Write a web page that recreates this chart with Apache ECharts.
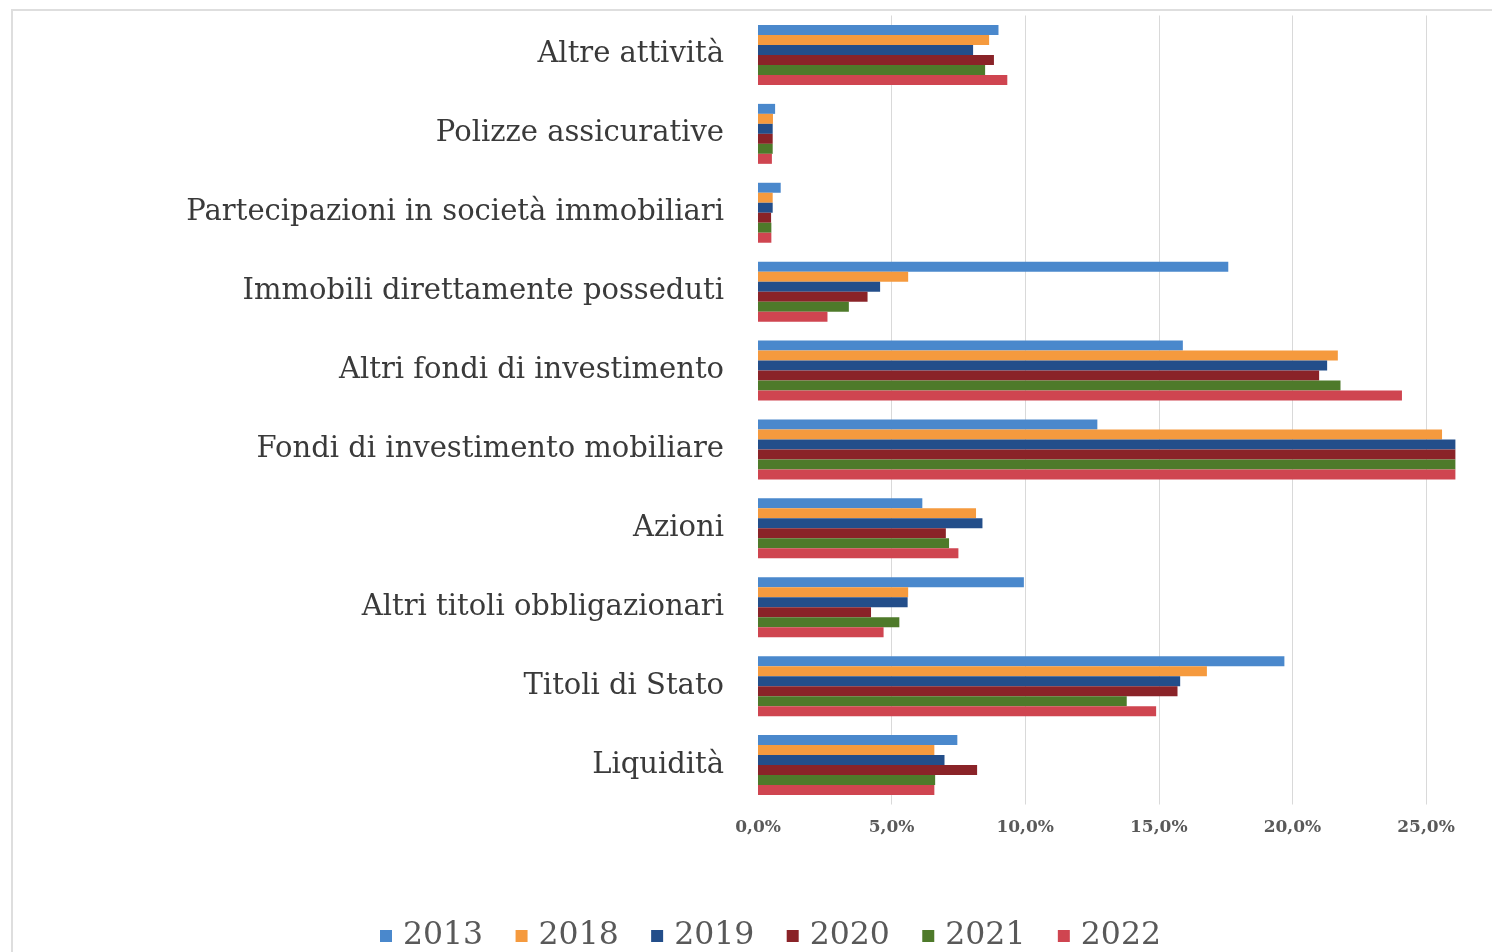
<!DOCTYPE html>
<html>
<head>
<meta charset="utf-8">
<title>Composizione degli investimenti</title>
<script src="https://cdn.jsdelivr.net/npm/echarts@6/dist/echarts.min.js"></script>
<style>
  html, body { margin: 0; padding: 0; background: #ffffff; }
  #chart { width: 1492px; height: 952px; }
</style>
</head>
<body>
<div id="chart"></div>
<script>
// Asset classes, listed from top to bottom
const categories = [
  'Altre attività',
  'Polizze assicurative',
  'Partecipazioni in società immobiliari',
  'Immobili direttamente posseduti',
  'Altri fondi di investimento',
  'Fondi di investimento mobiliare',
  'Azioni',
  'Altri titoli obbligazionari',
  'Titoli di Stato',
  'Liquidità'
];

const years = ['2013', '2018', '2019', '2020', '2021', '2022'];

// Share of total assets (%), same order as categories
const values2013 = [9.0, 0.64, 0.85, 17.6, 15.9, 12.7, 6.15, 9.95, 19.7, 7.46];
const values2018 = [8.65, 0.56, 0.55, 5.62, 21.7, 25.6, 8.16, 5.62, 16.8, 6.6];
const values2019 = [8.05, 0.55, 0.55, 4.57, 21.3, 26.1, 8.4, 5.6, 15.8, 6.98];
const values2020 = [8.83, 0.55, 0.49, 4.1, 21.0, 26.1, 7.03, 4.23, 15.7, 8.2];
const values2021 = [8.5, 0.55, 0.5, 3.4, 21.8, 26.1, 7.15, 5.29, 13.8, 6.63];
const values2022 = [9.33, 0.52, 0.5, 2.6, 24.1, 26.1, 7.5, 4.7, 14.9, 6.6];

const xTickStep = 5;
const seriesValues = [values2013, values2018, values2019, values2020, values2021, values2022];
const colors = ['#4a88cc', '#f59a3e', '#234e8a', '#8a2328', '#4e7a2a', '#cf4550'];

const serif = '"DejaVu Serif", "Liberation Serif", serif';

const chart = echarts.init(document.getElementById('chart'), null, { renderer: 'canvas' });

chart.setOption({
  backgroundColor: '#ffffff',
  animation: false,
  color: colors,
  graphic: [{
    type: 'rect',
    shape: { x: 12, y: 10, width: 1500, height: 960 },
    style: { fill: 'none', stroke: '#dedede', lineWidth: 2 },
    silent: true,
    z: -1
  }],
  grid: {
    left: 758,
    right: 36.6,
    top: 15.5,
    bottom: 147.5,
    containLabel: false
  },
  legend: {
    data: years,
    left: 375,
    top: 915,
    icon: 'rect',
    itemWidth: 12,
    itemHeight: 12,
    itemGap: 32.4,
    textStyle: {
      fontFamily: serif,
      fontSize: 31.5,
      color: '#595959',
      padding: [0, 0, 0, 6]
    }
  },
  xAxis: {
    type: 'value',
    min: 0,
    max: 26.1,
    interval: xTickStep,
    axisLine: { show: false },
    axisTick: { show: false },
    splitLine: {
      show: true,
      showMinLine: false,
      showMaxLine: false,
      lineStyle: { color: '#d9d9d9', width: 1 }
    },
    axisLabel: {
      showMaxLabel: false,
      margin: 15,
      fontFamily: serif,
      fontSize: 17,
      fontWeight: 'bold',
      color: '#595959',
      formatter: v => v.toFixed(1).replace('.', ',') + '%'
    }
  },
  yAxis: {
    type: 'category',
    data: categories,
    inverse: true,
    axisLine: { show: false },
    axisTick: { show: false },
    splitLine: { show: false },
    axisLabel: {
      margin: 34,
      fontFamily: serif,
      fontSize: 29,
      color: '#3a3a3a',
      padding: [4, 0, 0, 0]
    }
  },
  series: years.map((y, i) => ({
    name: y,
    type: 'bar',
    data: seriesValues[i],
    barGap: '0%',
    barCategoryGap: '24%',
    itemStyle: { color: colors[i] }
  }))
});
</script>
</body>
</html>
